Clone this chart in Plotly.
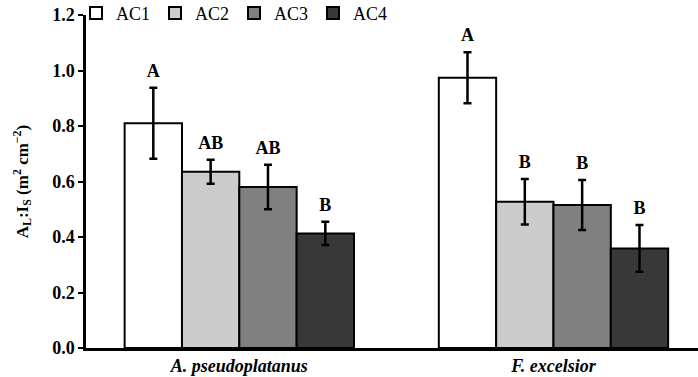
import plotly.graph_objects as go

species = ["A. pseudoplatanus", "F. excelsior"]
classes = ["AC1", "AC2", "AC3", "AC4"]
values = {
    "AC1": [0.81, 0.974],
    "AC2": [0.635, 0.527],
    "AC3": [0.58, 0.515],
    "AC4": [0.413, 0.359],
}
errors = {
    "AC1": [0.128, 0.092],
    "AC2": [0.043, 0.082],
    "AC3": [0.08, 0.09],
    "AC4": [0.042, 0.084],
}
letters = {
    "AC1": ["A", "A"],
    "AC2": ["AB", "B"],
    "AC3": ["AB", "B"],
    "AC4": ["B", "B"],
}
colors = {"AC1": "#ffffff", "AC2": "#cccccc", "AC3": "#808080", "AC4": "#383838"}

serif = "Liberation Serif"
fig = go.Figure()
for c in classes:
    fig.add_trace(go.Bar(
        x=species, y=values[c], name=c, offsetgroup=c,
        marker=dict(color=colors[c], line=dict(color="black", width=2)),
        error_y=dict(type="data", array=errors[c], color="black", thickness=2.5, width=4),
    ))
for c in classes:
    fig.add_trace(go.Scatter(
        x=species, y=[v + e for v, e in zip(values[c], errors[c])],
        mode="markers+text", text=letters[c], textposition="top center",
        marker=dict(size=9, color="rgba(0,0,0,0)"),
        textfont=dict(family=serif, size=18, color="black", weight="bold"),
        offsetgroup=c, showlegend=False, hoverinfo="skip",
    ))

fig.update_layout(
    width=698, height=377,
    margin=dict(l=86, r=0, t=15, b=29, autoexpand=False),
    barmode="group", bargap=0.27, bargroupgap=0,
    scattermode="group", scattergap=0.27,
    plot_bgcolor="white", paper_bgcolor="white",
    font=dict(family=serif, color="black"),
    legend=dict(
        orientation="h", x=-0.0163, y=1.005, xanchor="left", yanchor="middle",
        font=dict(family=serif, size=18, color="black"),
        entrywidth=34, itemwidth=30, bgcolor="rgba(0,0,0,0)", traceorder="normal",
    ),
)
fig.update_xaxes(
    range=[-0.488, 1.46], showline=True, linecolor="black", linewidth=2.5,
    ticks="", showgrid=False, automargin=False,
    tickfont=dict(family=serif, size=18, color="black", weight="bold", style="italic"),
)
fig.update_yaxes(
    range=[0, 1.2], dtick=0.2, tickformat=".1f", showline=True, linecolor="black",
    linewidth=2.5, ticks="outside", ticklen=5, tickwidth=2, tickcolor="black",
    showgrid=False, zeroline=False, automargin=False, ticklabeloverflow="allow",
    tickfont=dict(family=serif, size=18, color="black", weight="bold"),
    title=dict(text="A<sub>L</sub>:I<sub>S</sub> (m<sup>2</sup> cm<sup>−2</sup>)",
               font=dict(family=serif, size=17, color="black", weight="bold"), standoff=20),
)
fig.write_html("out.html", config={"displayModeBar": False},
               post_script="document.body.style.margin='0';")
